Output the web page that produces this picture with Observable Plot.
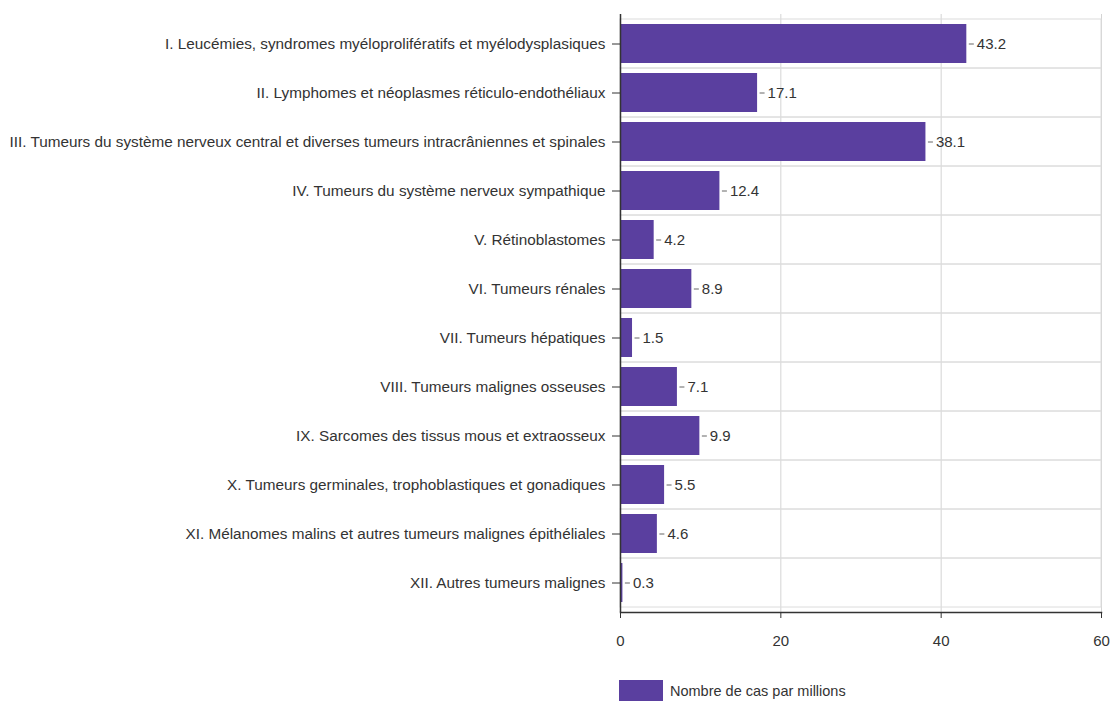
<!DOCTYPE html>
<html>
<head>
<meta charset="utf-8">
<script src="https://cdn.jsdelivr.net/npm/d3@7"></script>
<script src="https://cdn.jsdelivr.net/npm/@observablehq/plot@0.6"></script>
<style>
  html, body { margin: 0; padding: 0; background: #fff; }
  body { width: 1110px; height: 701px; overflow: hidden; font-family: "Liberation Sans", Arial, sans-serif; }
  #legend { position: relative; height: 41px; }
  #legend .sw { position: absolute; left: 619px; top: 20px; width: 44px; height: 22px; background: #5a3f9f; }
  #legend .lb { position: absolute; left: 670px; top: 23px; font-size: 14.5px; color: #333; }
</style>
</head>
<body>
<div id="chart"></div>
<div id="legend"><div class="sw"></div><div class="lb">Nombre de cas par millions</div></div>
<script>
const categories = [
  "I. Leucémies, syndromes myéloprolifératifs et myélodysplasiques",
  "II. Lymphomes et néoplasmes réticulo-endothéliaux",
  "III. Tumeurs du système nerveux central et diverses tumeurs intracrâniennes et spinales",
  "IV. Tumeurs du système nerveux sympathique",
  "V. Rétinoblastomes",
  "VI. Tumeurs rénales",
  "VII. Tumeurs hépatiques",
  "VIII. Tumeurs malignes osseuses",
  "IX. Sarcomes des tissus mous et extraosseux",
  "X. Tumeurs germinales, trophoblastiques et gonadiques",
  "XI. Mélanomes malins et autres tumeurs malignes épithéliales",
  "XII. Autres tumeurs malignes"
];
const values = [43.2, 17.1, 38.1, 12.4, 4.2, 8.9, 1.5, 7.1, 9.9, 5.5, 4.6, 0.3];
const xTicks = [0, 20, 40, 60];

const data = categories.map((c, i) => ({cat: c, value: values[i]}));

const dashSymbol = {
  draw(context) {
    context.moveTo(2, 0);
    context.lineTo(7, 0);
  }
};

const chart = Plot.plot({
  width: 1110,
  height: 660,
  marginLeft: 620,
  marginRight: 9,
  marginTop: 14,
  marginBottom: 48,
  style: {fontFamily: "'Liberation Sans', Arial, sans-serif", fontSize: "15px", color: "#333", background: "#fff"},
  x: {domain: [0, 60], ticks: xTicks},
  y: {domain: categories, padding: 0},
  marks: [
    Plot.gridX(xTicks, {stroke: "#d4d4d4", strokeOpacity: 1}),
    Plot.barX(categories, {x1: 0, x2: 60, y: d => d, fill: "none", stroke: "#dcdcdc"}),
    Plot.barX(data, {x: "value", y: "cat", fill: "#5a3f9f", insetTop: 5, insetBottom: 5}),
    Plot.dot(data, {x: "value", y: "cat", symbol: dashSymbol, stroke: "#666", strokeWidth: 1, r: 3}),
    Plot.text(data, {x: "value", y: "cat", text: d => d.value.toFixed(1), dx: 10, textAnchor: "start", fill: "#333", fontSize: 15}),
    Plot.axisY({tickSize: 8, tickPadding: 7, label: null, stroke: "#333", fontSize: 15.3}),
    Plot.axisX(xTicks, {tickSize: 6, tickPadding: 17, label: null, stroke: "#333", fontSize: 15}),
    Plot.ruleX([0], {stroke: "#333", strokeWidth: 1.5}),
    Plot.frame({anchor: "bottom", stroke: "#333", strokeWidth: 1.5})
  ]
});
document.getElementById("chart").appendChild(chart);
</script>
</body>
</html>
